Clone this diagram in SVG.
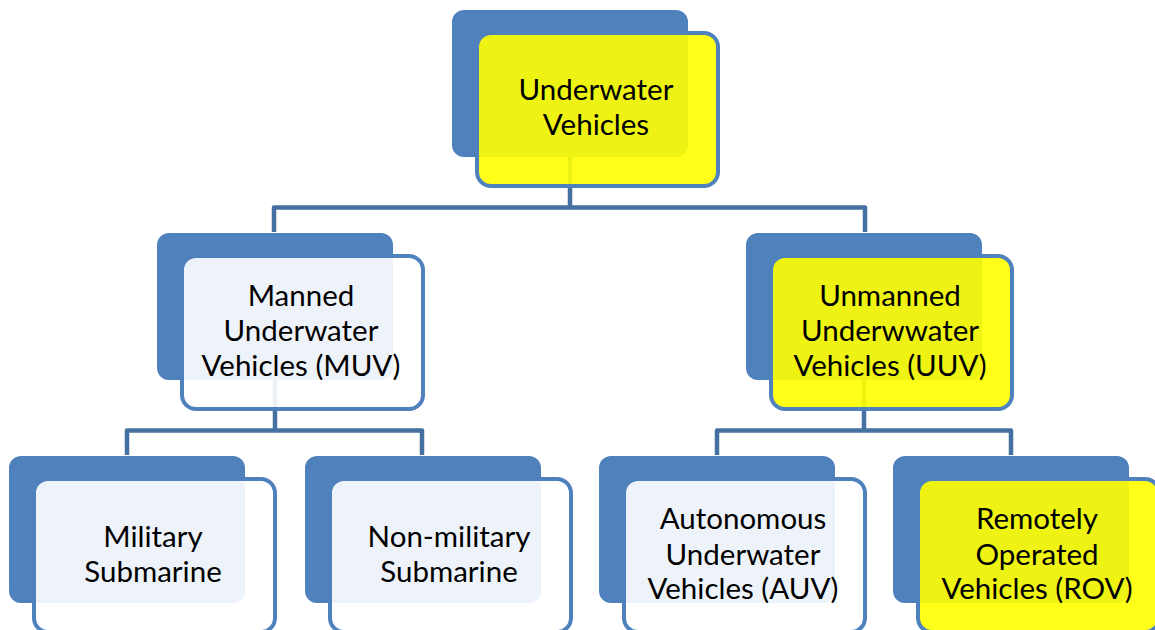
<svg xmlns="http://www.w3.org/2000/svg" width="1155" height="630" viewBox="0 0 1155 630">
<style>
.back{fill:#4F81BD}
.front{fill:#FFFFFF;fill-opacity:0.9;stroke:#4F81BD;stroke-width:4}
.yel{fill:#FFFF00;fill-opacity:0.9}
.conn{fill:none;stroke:#44719F;stroke-width:4.5;stroke-linejoin:round}
text{font-family:Lato,"Liberation Sans",sans-serif;font-size:29.5px;fill:#000;text-anchor:middle}
</style>
<rect width="1155" height="630" fill="#FFFFFF"/>
<g id="connectors">
<path class="conn" d="M570,150 V207.5 M274,232 V207.5 H865 V232"/>
<path class="conn" d="M275,375 V430.5 M127,455 V430.5 H422 V455"/>
<path class="conn" d="M864,375 V430.5 M717,455 V430.5 H1011 V455"/>
</g>
<g id="node-underwater-vehicles">
<rect class="back" x="452" y="10" width="236" height="147" rx="12"/>
<rect class="front yel" x="477" y="33" width="241" height="153" rx="14"/>
<text x="596" y="100">Underwater</text>
<text x="596" y="135">Vehicles</text>
</g>
<g id="node-muv">
<rect class="back" x="157" y="233" width="236" height="147" rx="12"/>
<rect class="front" x="182" y="256" width="241" height="153" rx="14"/>
<text x="301" y="306">Manned</text>
<text x="301" y="341">Underwater</text>
<text x="301" y="376">Vehicles (MUV)</text>
</g>
<g id="node-uuv">
<rect class="back" x="746" y="233" width="236" height="147" rx="12"/>
<rect class="front yel" x="771" y="256" width="241" height="153" rx="14"/>
<text x="890" y="306">Unmanned</text>
<text x="890" y="341">Underwwater</text>
<text x="890" y="376">Vehicles (UUV)</text>
</g>
<g id="node-military">
<rect class="back" x="9" y="456" width="236" height="147" rx="12"/>
<rect class="front" x="34" y="479" width="241" height="153" rx="14"/>
<text x="153" y="547">Military</text>
<text x="153" y="582">Submarine</text>
</g>
<g id="node-nonmilitary">
<rect class="back" x="305" y="456" width="236" height="147" rx="12"/>
<rect class="front" x="330" y="479" width="241" height="153" rx="14"/>
<text x="449" y="547">Non-military</text>
<text x="449" y="582">Submarine</text>
</g>
<g id="node-auv">
<rect class="back" x="599" y="456" width="236" height="147" rx="12"/>
<rect class="front" x="624" y="479" width="241" height="153" rx="14"/>
<text x="743" y="529">Autonomous</text>
<text x="743" y="565">Underwater</text>
<text x="743" y="599">Vehicles (AUV)</text>
</g>
<g id="node-rov">
<rect class="back" x="893" y="456" width="236" height="147" rx="12"/>
<rect class="front yel" x="918" y="479" width="241" height="153" rx="14"/>
<text x="1037" y="529">Remotely</text>
<text x="1037" y="565">Operated</text>
<text x="1037" y="599">Vehicles (ROV)</text>
</g>
</svg>
